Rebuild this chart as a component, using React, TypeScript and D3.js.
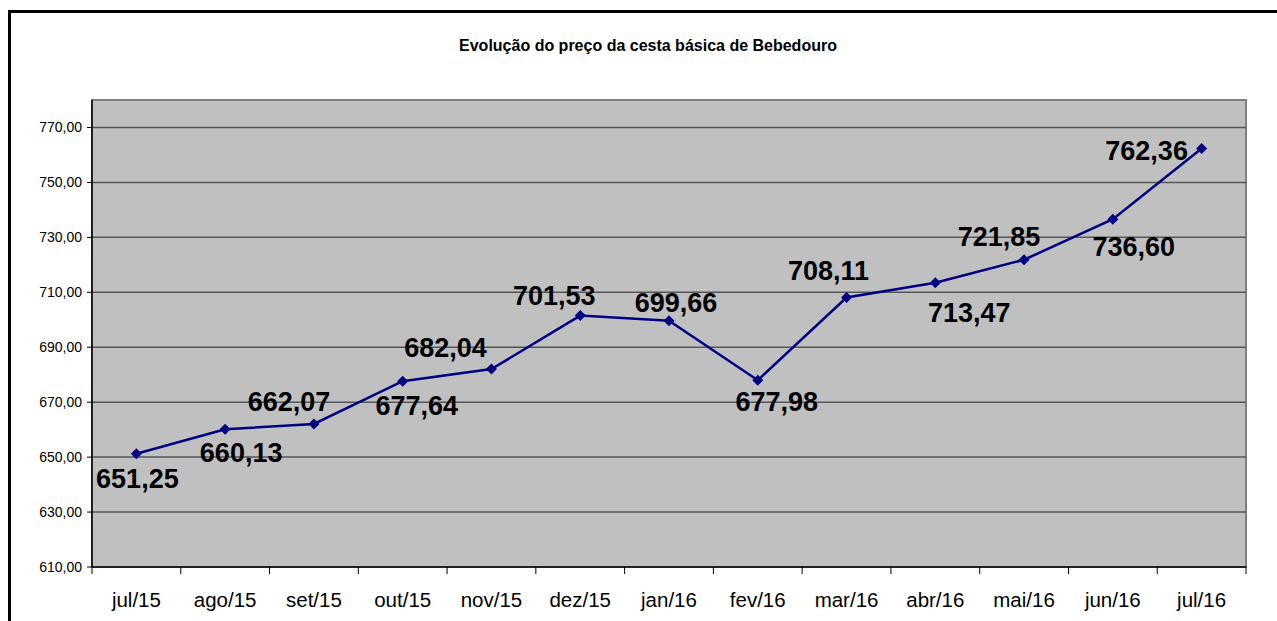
import React from "react";
import * as d3 from "d3";

const months = [
  "jul/15", "ago/15", "set/15", "out/15", "nov/15", "dez/15", "jan/16",
  "fev/16", "mar/16", "abr/16", "mai/16", "jun/16", "jul/16",
];
const prices = [
  651.25, 660.13, 662.07, 677.64, 682.04, 701.53, 699.66, 677.98, 708.11,
  713.47, 721.85, 736.6, 762.36,
];
const yTicks = [610, 630, 650, 670, 690, 710, 730, 750, 770];

// where each value label sits relative to its point (dx, dy to the baseline)
const labelOffsets: [number, number][] = [
  [1, 34], [16, 33], [-25, -13], [14, 34], [-46, -12], [-26, -11], [7, -9],
  [19, 31], [-18, -17], [34, 39], [-25, -14], [21, 37], [-55, 12],
];

const fmt = (v: number) => v.toFixed(2).replace(".", ",");

const App = () => {
  const width = 1277;
  const height = 621;
  const plot = { left: 92, top: 100, right: 1246, bottom: 567 };

  const xScale = d3
    .scaleBand()
    .domain(months)
    .range([plot.left, plot.right]);

  const yScale = d3
    .scaleLinear()
    .domain([610, 780])
    .range([plot.bottom, plot.top]);

  const cx = (m: string) => (xScale(m) as number) + xScale.bandwidth() / 2;

  const line = d3
    .line<number>()
    .x((_, i) => cx(months[i]))
    .y((d) => yScale(d));

  const boundaries = months.map((m) => xScale(m) as number).concat([plot.right]);

  return (
    <svg
      width={width}
      height={height}
      style={{ position: "absolute", left: 0, top: 0, background: "#fff" }}
      fontFamily="'Liberation Sans', Arial, sans-serif"
    >
      {/* outer chart frame, runs off the right and bottom */}
      <rect x={9.5} y={11.5} width={1400} height={700} fill="#fff" stroke="#000" strokeWidth={3} />

      <text x={648} y={51} textAnchor="middle" fontSize={16} fontWeight="bold">
        Evolução do preço da cesta básica de Bebedouro
      </text>

      <rect
        x={plot.left}
        y={plot.top}
        width={plot.right - plot.left}
        height={plot.bottom - plot.top}
        fill="#c0c0c0"
        stroke="#808080"
        strokeWidth={2}
      />

      {yTicks.map((t) => (
        <g key={t}>
          {t > 610 && (
            <line x1={plot.left} x2={plot.right} y1={yScale(t)} y2={yScale(t)} stroke="#555" strokeWidth={1.5} />
          )}
          <line x1={plot.left - 5} x2={plot.left} y1={yScale(t)} y2={yScale(t)} stroke="#000" strokeWidth={1} />
          <text x={82} y={yScale(t) + 5} textAnchor="end" fontSize={14} fill="#000">
            {fmt(t)}
          </text>
        </g>
      ))}

      <line x1={plot.left} x2={plot.left} y1={plot.top} y2={plot.bottom} stroke="#000" strokeWidth={1.5} />
      <line x1={plot.left} x2={plot.right} y1={plot.bottom} y2={plot.bottom} stroke="#000" strokeWidth={1.5} />

      {boundaries.map((b, i) => (
        <line key={i} x1={b} x2={b} y1={plot.bottom} y2={plot.bottom + 7} stroke="#000" strokeWidth={1} />
      ))}

      {months.map((m) => (
        <text key={m} x={cx(m)} y={607} textAnchor="middle" fontSize={20.5} fill="#000">
          {m}
        </text>
      ))}

      <path d={line(prices) || ""} fill="none" stroke="#000080" strokeWidth={2.5} />

      {prices.map((v, i) => {
        const x = cx(months[i]);
        const y = yScale(v);
        return (
          <path
            key={i}
            d={`M${x},${y - 5.5}L${x + 5.5},${y}L${x},${y + 5.5}L${x - 5.5},${y}Z`}
            fill="#000080"
          />
        );
      })}

      {prices.map((v, i) => (
        <text
          key={i}
          x={cx(months[i]) + labelOffsets[i][0]}
          y={yScale(v) + labelOffsets[i][1]}
          textAnchor="middle"
          fontSize={27}
          fontWeight="bold"
          fill="#000"
        >
          {fmt(v)}
        </text>
      ))}
    </svg>
  );
};

export default App;
